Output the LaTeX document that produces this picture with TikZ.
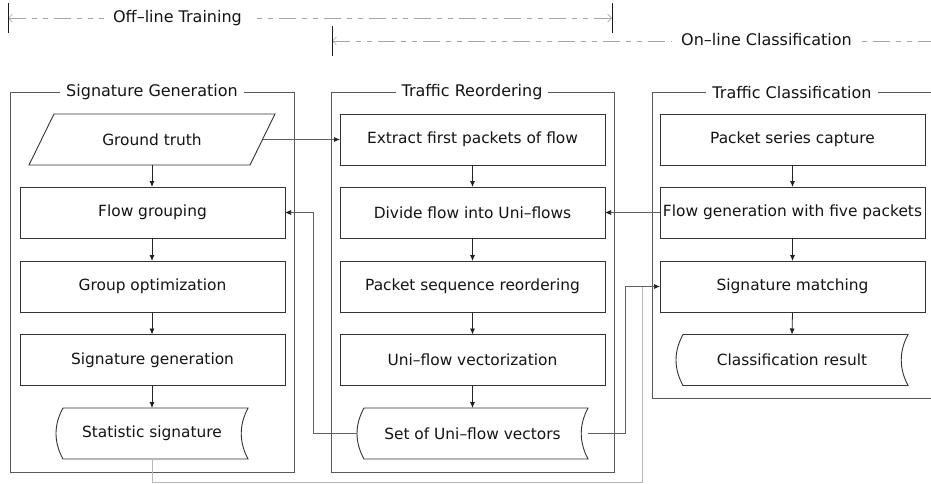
\documentclass[tikz,border=0pt]{standalone}
\usepackage{fontspec}
\setmainfont{DejaVu Sans}
\usetikzlibrary{arrows.meta,calc}

% outline of a "stored data" symbol drawn round an invisible node
\newcommand\storedframe[1]{%
  \draw[boxline] ($(#1.north west)+(7,0)$) -- (#1.north east)
    .. controls ($(#1.north east)+(-9,17)$) and ($(#1.south east)+(-9,-17)$) .. (#1.south east)
    -- ($(#1.south west)+(7,0)$)
    .. controls ($(#1.south west)+(-2.33,-17)$) and ($(#1.north west)+(-2.33,17)$) .. ($(#1.north west)+(7,0)$) -- cycle;}

\tikzset{
  barbtip/.tip={Straight Barb[length=4pt,width=8pt,line width=0.6pt]},
  flowtip/.tip={Latex[length=6pt,width=5pt,color=black!88]},
}

\begin{document}
\begin{tikzpicture}[x=1pt,y=-1pt,
  boxtext/.style={font=\fontsize{15.4}{18}\selectfont, text=black!92},
  boxline/.style={draw=black!80, line width=0.9pt},
  procbox/.style={boxline, fill=white, minimum width=265pt, minimum height=51pt,
    inner sep=0pt, outer sep=0pt, boxtext},
  plainbox/.style={minimum height=51pt, inner sep=0pt, outer sep=0pt, boxtext},
  groupframe/.style={draw=black!65, line width=0.9pt},
  grouptitle/.style={fill=white, inner xsep=6pt, inner ysep=1pt,
    font=\fontsize{16}{19}\selectfont, text=black!92},
  toplabel/.style={fill=white, inner xsep=9pt, inner ysep=1pt,
    font=\fontsize{16}{19}\selectfont, text=black!92},
  timeline/.style={draw=black!35, line width=0.8pt,
    dash pattern=on 17pt off 6pt on 5pt off 6pt on 5pt off 6pt},
  tick/.style={draw=black!90, line width=1pt},
  flow/.style={draw=black!85, line width=0.8pt, -flowtip},
  link/.style={draw=black!62, line width=0.7pt},
  faintlink/.style={draw=black!28, line width=0.7pt},
]
\useasboundingbox (0,0) rectangle (931,483);
\clip (0,0) rectangle (931,483);
\fill[white] (0,0) rectangle (931,483);

% ---- phase time lines ----
\coordinate (offL) at (8,18);
\coordinate (offR) at (612,18);
\coordinate (onL) at (332,41);
\coordinate (onR) at (950,41);
\draw[timeline, barbtip-barbtip] (offL) -- (offR);
\draw[timeline, barbtip-] (onL) -- (onR);
\draw[tick] ($(offL)+(0,-15)$) -- ($(offL)+(0,15)$);
\draw[tick] ($(offR)+(0,-15)$) -- ($(offR)+(0,15)$);
\draw[tick] ($(onL)+(0,-15)$) -- ($(onL)+(0,15)$);
\node[toplabel] (offlbl) at (177.5,18) {Off–line Training};
\node[toplabel] (onlbl) at (766.5,40) {On–line Classification};

% ---- group frames ----
\draw[groupframe] (10.5,92.5) rectangle (294,472);
\draw[groupframe] (331,92.5) rectangle (614,472);
\draw[groupframe] (652,92.5) rectangle (960,398);
\node[grouptitle] (t1) at (152,92.5) {Signature Generation};
\node[grouptitle] (t2) at (472,92.5) {Traffic Reordering};
\node[grouptitle] (t3) at (792,92.5) {Traffic Classification};

% ---- signature generation column ----
\node[plainbox, minimum width=246pt] (gt) at (152,139.5) {Ground truth};
\draw[boxline] (gt.south west) -- ($(gt.south east)+(-25,0)$) -- (gt.north east)
  -- ($(gt.north west)+(25,0)$) -- cycle;
\node[procbox] (fg) at (152.5,212.5) {Flow grouping};
\node[procbox] (go) at (152.5,286.5) {Group optimization};
\node[procbox] (sg) at (152.5,360) {Signature generation};
\node[plainbox, minimum width=192pt] (ss) at (152,433.5) {Statistic signature};
\storedframe{ss}

% ---- traffic reordering column ----
\node[procbox] (ex) at (472.5,139.5) {Extract first packets of flow};
\node[procbox] (dv) at (472.5,212.5) {Divide flow into Uni–flows};
\node[procbox] (pr) at (472.5,286.5) {Packet sequence reordering};
\node[procbox] (uv) at (472.5,360) {Uni–flow vectorization};
\node[plainbox, minimum width=231pt] (su) at (472.5,433.5) {Set of Uni–flow vectors};
\storedframe{su}

% ---- traffic classification column ----
\node[procbox] (pc) at (792.5,139.5) {Packet series capture};
\node[procbox] (fv) at (792.5,212.5) {Flow generation with five packets};
\node[procbox] (sm) at (792.5,286.5) {Signature matching};
\node[plainbox, minimum width=232pt] (cr) at (792,360) {Classification result};
\storedframe{cr}

% ---- vertical flow ----
\draw[flow] (gt.south) -- (fg.north -| gt.south);
\draw[flow] (fg.south -| gt.south) -- (go.north -| gt.south);
\draw[flow] (go.south -| gt.south) -- (sg.north -| gt.south);
\draw[flow] (sg.south -| gt.south) -- (ss.north);
\draw[flow] (ex.south) -- (dv.north);
\draw[flow] (dv.south) -- (pr.north);
\draw[flow] (pr.south) -- (uv.north);
\draw[flow] (uv.south) -- (su.north);
\draw[flow] (pc.south) -- (fv.north);
\draw[flow] (fv.south) -- (sm.north);
\draw[flow] (sm.south) -- (cr.north);

% ---- cross links ----
\coordinate (backx) at (313,0);
\coordinate (setx) at (625,0);
\coordinate (statc) at (642,482);
\draw[faintlink] (ss.south) -- (ss.south |- statc) -- (statc) -- (sm.west -| statc);
\draw[link, -flowtip] ($(gt.east)+(-12.5,0)$) -- (ex.west);
\draw[link, -flowtip] (su.west) -- (su.west -| backx) -- (fg.east -| backx) -- (fg.east);
\draw[link, -flowtip] (fv.west) -- (dv.east);
\draw[link, -flowtip] (su.east) -- (su.east -| setx) -- (sm.west -| setx) -- (sm.west);
\end{tikzpicture}
\end{document}
